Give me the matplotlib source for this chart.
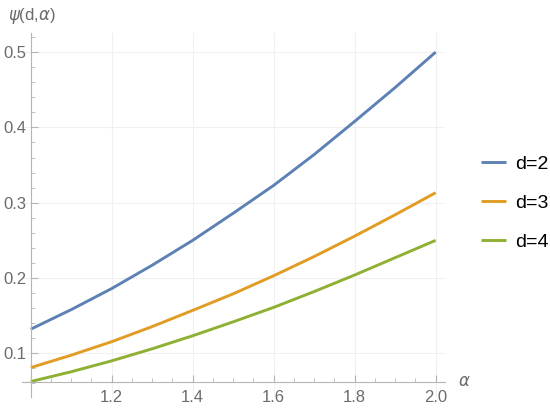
import matplotlib
matplotlib.use("Agg")
import matplotlib.pyplot as plt
from matplotlib.ticker import MultipleLocator

# valores
alfa = [1.0, 1.1, 1.2, 1.3, 1.4, 1.5, 1.6, 1.7, 1.8, 1.9, 2.0]
psi_d2 = [0.132, 0.158, 0.186, 0.217, 0.250, 0.286, 0.323, 0.364, 0.408, 0.453, 0.500]
psi_d3 = [0.081, 0.0975, 0.1154, 0.1355, 0.157, 0.179, 0.203, 0.2285, 0.2556, 0.284, 0.3133]
psi_d4 = [0.0625, 0.0755, 0.090, 0.106, 0.1233, 0.1418, 0.161, 0.182, 0.204, 0.227, 0.250]
etiquetas = ["d=2", "d=3", "d=4"]
colores = ["#5E81B5", "#E19C24", "#8FB032"]

plt.rcParams["font.family"] = ["Liberation Sans", "DejaVu Sans"]
gris = "#6b6b6b"

fig = plt.figure(figsize=(5.5, 4.11), dpi=100)
ax = fig.add_axes([0.0396, 0.0341, 0.7687, 0.8849])

for serie, etiqueta, color in zip([psi_d2, psi_d3, psi_d4], etiquetas, colores):
    ax.plot(alfa, serie, color=color, lw=2.1, label=etiqueta, solid_capstyle="butt")

ax.set_xlim(0.978, 2.022)
ax.set_ylim(0.042, 0.525)

# ejes estilo Mathematica: se cruzan en el origen del rango
for lado in ["top", "right"]:
    ax.spines[lado].set_visible(False)
ax.spines["left"].set_position(("data", 1.0))
ax.spines["bottom"].set_position(("data", 0.0625))
for lado in ["left", "bottom"]:
    ax.spines[lado].set_color("#b5b5b5")
    ax.spines[lado].set_linewidth(0.8)

ax.set_xticks([1.2, 1.4, 1.6, 1.8, 2.0])
ax.set_xticklabels(["1.2", "1.4", "1.6", "1.8", "2.0"])
ax.set_yticks([0.1, 0.2, 0.3, 0.4, 0.5])
ax.set_yticklabels(["0.1", "0.2", "0.3", "0.4", "0.5"])
ax.xaxis.set_minor_locator(MultipleLocator(0.05))
ax.yaxis.set_minor_locator(MultipleLocator(0.02))
ax.tick_params(which="both", direction="in", color="#b5b5b5", labelcolor=gris, labelsize=12)
ax.tick_params(which="major", length=5, width=0.8)
ax.tick_params(which="minor", length=3, width=0.6)
ax.tick_params(axis="x", pad=6)
ax.tick_params(axis="y", pad=3)

ax.grid(True, which="major", color="#f0f0f0", lw=0.8)
ax.set_axisbelow(True)

fig.text(0.015, 1 - 16 / 411, r"$\psi$(d,$\alpha$)", color=gris, fontsize=12, va="center")
fig.text(458 / 550, 1 - 381 / 411, r"$\alpha$", color=gris, fontsize=12, va="center")

ax.legend(loc="center left", bbox_to_anchor=(481 / 550, 1 - 203 / 411),
          bbox_transform=fig.transFigure, frameon=False, fontsize=14,
          handlelength=1.3, handletextpad=0.45, labelspacing=1.1,
          borderpad=0, borderaxespad=0)

fig.savefig("out.png", dpi=100)
